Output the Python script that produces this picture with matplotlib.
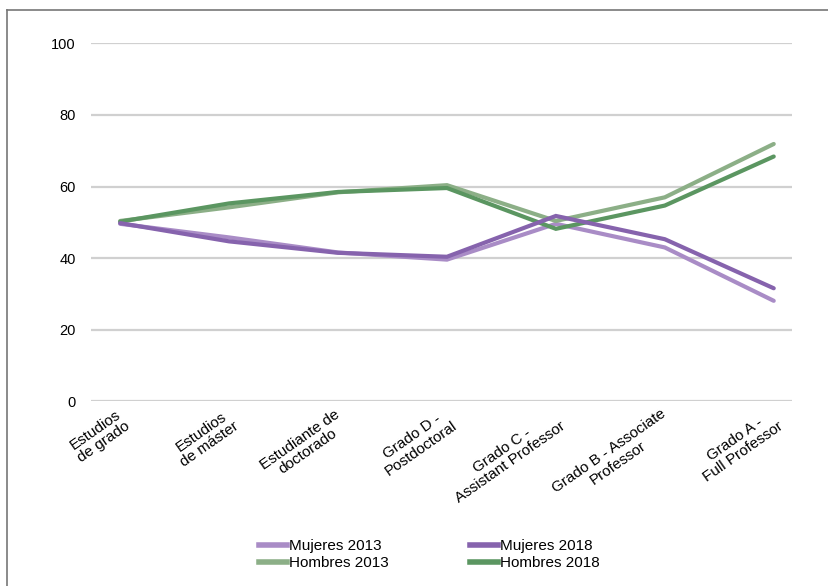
import matplotlib.pyplot as plt
from matplotlib.lines import Line2D
from matplotlib.transforms import ScaledTranslation

plt.rcParams['font.family'] = ['Liberation Sans', 'DejaVu Sans']

categorias = ["Estudios\nde grado", "Estudios\nde máster", "Estudiante de\ndoctorado",
              "Grado D -\nPostdoctoral", "Grado C -\nAssistant Professor",
              "Grado B - Associate\nProfessor", "Grado A -\nFull Professor"]

mujeres_2013 = [49.6, 45.8, 41.6, 39.6, 49.6, 43.0, 28.1]
hombres_2013 = [50.4, 54.2, 58.4, 60.4, 50.4, 57.0, 71.9]
mujeres_2018 = [49.8, 44.7, 41.5, 40.4, 51.8, 45.3, 31.6]
hombres_2018 = [50.2, 55.3, 58.5, 59.6, 48.2, 54.7, 68.4]

yticks = [0, 20, 40, 60, 80, 100]

c_m13 = '#a98cc6'
c_h13 = '#8caf87'
c_m18 = '#8663ad'
c_h18 = '#5b9661'

fig = plt.figure(figsize=(8.29, 5.86), dpi=100)
ax = fig.add_axes([0.110, 0.315, 0.845, 0.611])

x = list(range(len(categorias)))
lw = 3.0
ax.plot(x, mujeres_2013, color=c_m13, lw=lw, solid_capstyle='round', solid_joinstyle='miter', label='Mujeres 2013', zorder=3)
ax.plot(x, hombres_2013, color=c_h13, lw=lw, solid_capstyle='round', solid_joinstyle='miter', label='Hombres 2013', zorder=3)
ax.plot(x, hombres_2018, color=c_h18, lw=lw, solid_capstyle='round', solid_joinstyle='miter', label='Hombres 2018', zorder=4)
ax.plot(x, mujeres_2018, color=c_m18, lw=lw, solid_capstyle='round', solid_joinstyle='miter', label='Mujeres 2018', zorder=4)

ax.set_xlim(-0.266, 6.165)
ax.set_ylim(0, 100)
ax.set_yticks(yticks)
ax.set_yticklabels([str(v) for v in yticks], fontsize=10.5)
ax.yaxis.grid(True, color='#d0d0d0', lw=1.6)
ax.set_axisbelow(True)
for s in ax.spines.values():
    s.set_visible(False)
ax.tick_params(axis='both', length=0)
ax.tick_params(axis='y', pad=11)

ax.set_xticks(x)
ax.set_xticklabels(categorias, rotation=35, ha='right', va='top', rotation_mode='anchor',
                   multialignment='center', fontsize=11, linespacing=1.05)
ax.tick_params(axis='x', pad=4)
off = ScaledTranslation(-3 / 72, 0, fig.dpi_scale_trans)
for t in ax.get_xticklabels():
    t.set_transform(t.get_transform() + off)

handles = [Line2D([], [], color=c_m13, lw=4),
           Line2D([], [], color=c_h13, lw=4),
           Line2D([], [], color=c_m18, lw=4),
           Line2D([], [], color=c_h18, lw=4)]
labels = ['Mujeres 2013', 'Hombres 2013', 'Mujeres 2018', 'Hombres 2018']
fig.legend(handles, labels, ncol=2, loc='center', bbox_to_anchor=(0.518, 0.053),
           frameon=False, fontsize=11, handlelength=1.85, handletextpad=0.15,
           columnspacing=5.3, labelspacing=0.2)

# marco
fig.add_artist(Line2D([7 / 829, 7 / 829], [0, 1 - 10 / 586], color='#777777', lw=1.2, transform=fig.transFigure))
fig.add_artist(Line2D([7 / 829, 1], [1 - 10 / 586, 1 - 10 / 586], color='#777777', lw=1.2, transform=fig.transFigure))

plt.savefig('out.png', dpi=100)
